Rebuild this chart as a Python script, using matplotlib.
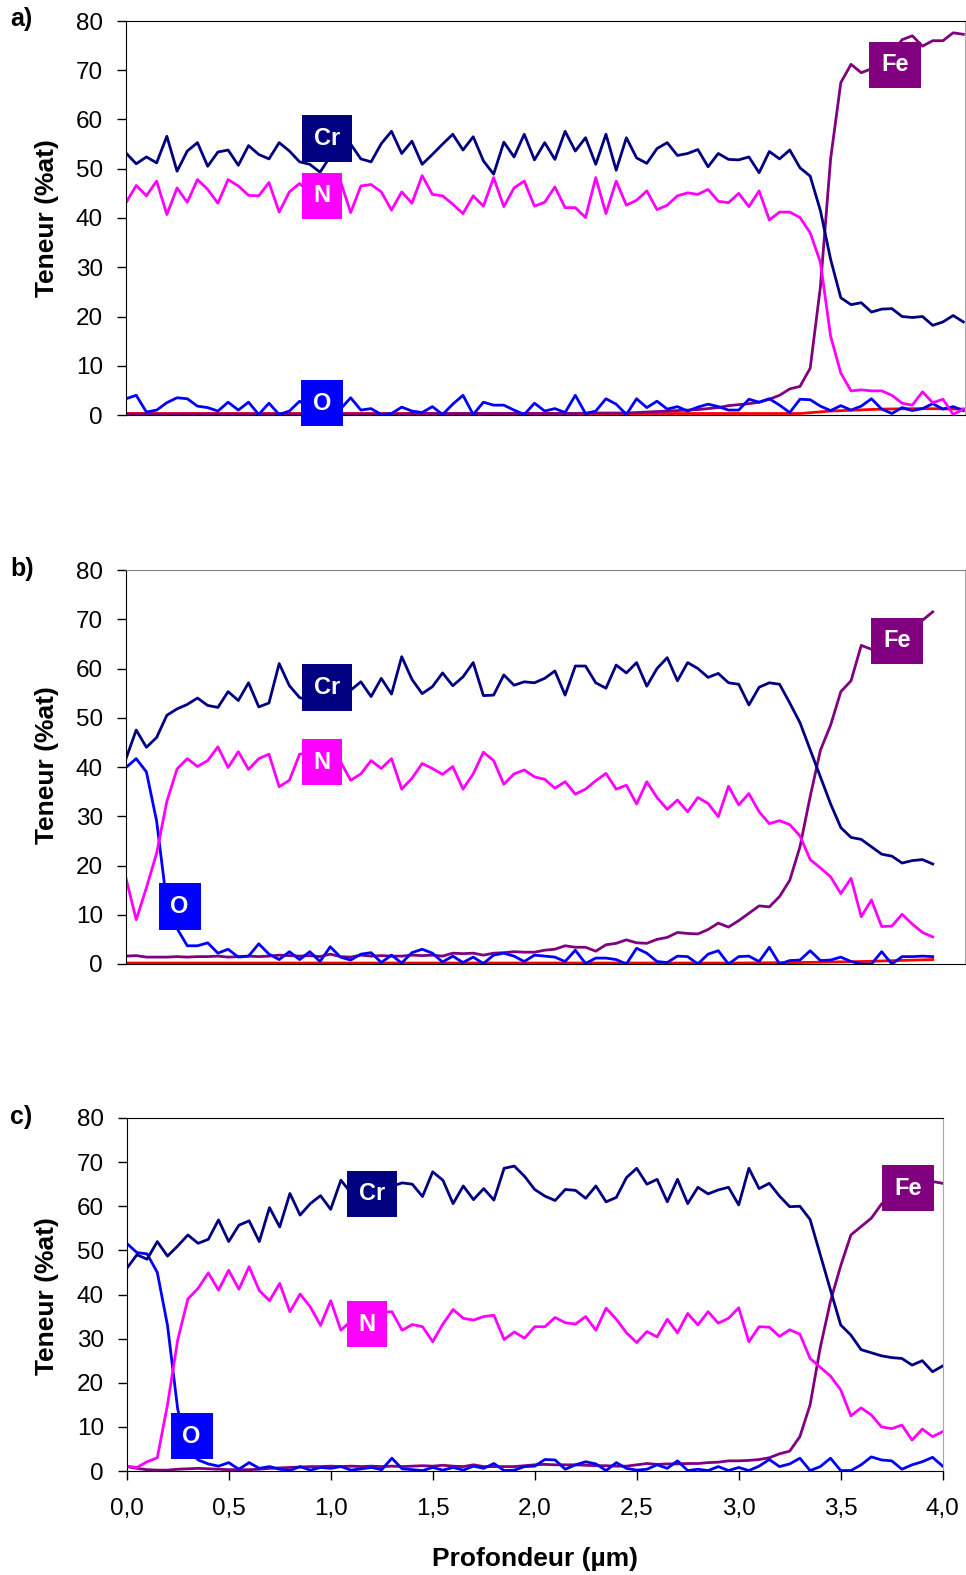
import numpy as np
import matplotlib

matplotlib.use("Agg")
import matplotlib.pyplot as plt
from matplotlib.ticker import FuncFormatter

plt.rcParams['font.family'] = ['Liberation Sans', 'DejaVu Sans']

# Profondeurs (pas de 0,05 µm)
prof_a = np.round(np.arange(83) * 0.05, 2)
prof_b = np.round(np.arange(80) * 0.05, 2)
prof_c = np.round(np.arange(81) * 0.05, 2)

# ---- Profil a) ----
cr_a = [53.2, 51.0, 52.4, 51.2, 56.6, 49.5, 53.6, 55.3, 50.5, 53.4,
        53.8, 50.7, 54.7, 52.9, 52.0, 55.3, 53.6, 51.4, 50.9, 49.3,
        52.5, 52.0, 55.0, 52.0, 51.4, 55.1, 57.6, 53.1, 55.6, 50.9,
        52.9, 55.0, 57.0, 53.8, 56.5, 51.6, 48.9, 55.4, 52.4, 57.0,
        51.8, 55.3, 51.9, 57.6, 53.6, 56.3, 50.9, 57.0, 49.7, 56.3,
        52.2, 51.1, 54.1, 55.3, 52.7, 53.1, 53.9, 50.4, 53.1, 51.9,
        51.8, 52.4, 49.2, 53.5, 52.0, 53.8, 50.2, 48.5, 41.5, 31.6,
        23.8, 22.4, 22.8, 20.9, 21.5, 21.6, 20.0, 19.8, 20.0, 18.2,
        18.9, 20.2, 18.9]
n_a = [43.1, 46.6, 44.5, 47.5, 40.7, 46.1, 43.2, 47.8, 45.8, 43.0,
       47.8, 46.5, 44.6, 44.5, 47.2, 41.2, 45.3, 47.0, 45.1, 47.8,
       46.0, 47.5, 41.1, 46.5, 46.8, 45.3, 41.6, 45.3, 43.0, 48.6,
       44.8, 44.5, 42.8, 40.9, 44.5, 42.4, 48.2, 42.3, 46.1, 47.5,
       42.4, 43.2, 46.3, 42.1, 42.1, 40.1, 48.2, 40.9, 47.5, 42.6,
       43.6, 45.5, 41.7, 42.6, 44.5, 45.1, 44.8, 45.8, 43.4, 43.1,
       45.0, 42.3, 45.5, 39.6, 41.2, 41.2, 40.1, 37.0, 31.0, 16.0,
       8.5, 4.9, 5.1, 4.9, 4.9, 4.0, 2.4, 2.0, 4.7, 2.5,
       3.2, 0.1, 1.2]
o_a = [3.3, 4.0, 0.6, 1.0, 2.5, 3.5, 3.3, 1.8, 1.5, 0.8,
       2.6, 1.0, 2.6, 0.1, 2.4, 0.1, 0.8, 2.8, 1.3, 1.8,
       1.5, 1.2, 3.5, 1.0, 1.3, 0.1, 0.3, 1.6, 0.8, 0.5,
       1.7, 0.1, 2.2, 4.0, 0.1, 2.6, 2.0, 2.0, 1.0, 0.1,
       2.4, 0.8, 1.3, 0.5, 4.0, 0.3, 0.8, 3.3, 2.2, 0.1,
       3.3, 1.5, 2.8, 1.2, 1.7, 0.8, 1.6, 2.2, 1.7, 1.0,
       1.0, 3.2, 2.6, 3.3, 2.0, 0.5, 3.2, 3.1, 1.8, 0.9,
       1.9, 1.0, 1.8, 3.3, 1.2, 0.3, 1.5, 0.9, 1.3, 2.3,
       1.2, 1.7, 0.9]
fe_a = [0.2, 0.2, 0.2, 0.2, 0.2, 0.2, 0.2, 0.2, 0.2, 0.2,
        0.2, 0.2, 0.2, 0.2, 0.2, 0.2, 0.2, 0.2, 0.2, 0.2,
        0.2, 0.2, 0.2, 0.2, 0.2, 0.2, 0.2, 0.2, 0.3, 0.3,
        0.3, 0.3, 0.3, 0.3, 0.3, 0.3, 0.3, 0.3, 0.3, 0.3,
        0.3, 0.3, 0.3, 0.3, 0.3, 0.4, 0.4, 0.4, 0.4, 0.4,
        0.5, 0.6, 0.7, 0.8, 0.9, 1.0, 1.1, 1.3, 1.5, 1.9,
        2.1, 2.3, 2.6, 3.2, 4.0, 5.3, 5.8, 9.5, 26.0, 52.0,
        67.5, 71.2, 69.5, 70.3, 71.5, 73.5, 76.2, 77.0, 74.9, 76.0,
        76.0, 77.6, 77.3]
rouge_x_a = [0.0, 1.0, 2.0, 3.0, 3.3, 3.45, 3.7, 3.9, 4.1]
rouge_a = [0.3, 0.3, 0.3, 0.3, 0.3, 0.8, 1.2, 1.3, 1.2]

# ---- Profil b) ----
cr_b = [41.7, 47.5, 44.0, 46.0, 50.5, 51.8, 52.7, 54.0, 52.5, 52.1,
        55.3, 53.5, 57.1, 52.2, 53.0, 61.0, 56.5, 54.1, 53.5, 55.5,
        54.0, 57.0, 55.6, 57.3, 54.3, 58.0, 54.8, 62.4, 57.8, 54.9,
        56.3, 59.1, 56.5, 58.3, 61.2, 54.5, 54.6, 58.7, 56.6, 57.3,
        57.1, 58.0, 59.5, 54.6, 60.5, 60.5, 57.1, 56.0, 60.7, 59.1,
        61.2, 56.4, 60.0, 62.2, 57.5, 61.2, 60.0, 58.2, 59.0, 57.1,
        56.8, 52.6, 56.2, 57.1, 56.8, 53.0, 49.0, 43.5, 38.0, 32.5,
        27.7, 25.7, 25.3, 23.8, 22.3, 21.9, 20.5, 21.0, 21.2, 20.3]
n_b = [17.4, 9.0, 15.5, 22.5, 33.0, 39.6, 41.7, 40.1, 41.3, 44.1,
       39.9, 43.1, 39.5, 41.7, 42.6, 36.0, 37.3, 42.6, 42.8, 41.5,
       42.0, 41.1, 37.3, 38.6, 41.3, 39.7, 41.7, 35.5, 37.7, 40.7,
       39.7, 38.5, 40.1, 35.5, 38.6, 43.0, 41.3, 36.5, 38.6, 39.4,
       38.0, 37.5, 35.7, 37.0, 34.5, 35.5, 37.2, 38.7, 35.5, 36.3,
       32.5, 37.0, 33.8, 31.4, 33.3, 30.9, 33.8, 32.6, 29.9, 36.1,
       32.3, 34.6, 30.9, 28.5, 29.1, 28.3, 26.0, 21.2, 19.5, 17.7,
       14.3, 17.4, 9.6, 13.0, 7.6, 7.7, 10.1, 8.1, 6.4, 5.5]
o_b = [39.9, 41.7, 39.0, 29.0, 12.3, 7.2, 3.7, 3.7, 4.3, 2.2,
       3.0, 1.4, 1.6, 4.1, 2.0, 0.9, 2.5, 0.9, 2.5, 0.5,
       3.5, 1.4, 0.8, 2.0, 2.3, 0.3, 1.8, 0.2, 2.3, 3.0,
       2.2, 0.4, 1.6, 0.3, 1.4, 0.1, 1.8, 2.2, 1.6, 0.5,
       1.8, 1.6, 1.4, 0.5, 2.8, 0.1, 1.2, 1.2, 0.9, 0.0,
       3.2, 2.2, 0.5, 0.3, 1.6, 1.5, 0.0, 2.0, 2.7, 0.0,
       1.5, 1.6, 0.5, 3.4, 0.0, 0.7, 0.8, 2.7, 0.7, 0.8,
       1.4, 0.5, 0.0, 0.0, 2.5, 0.0, 1.5, 1.5, 1.6, 1.5]
fe_b = [1.6, 1.7, 1.4, 1.4, 1.4, 1.5, 1.4, 1.5, 1.5, 1.6,
        1.4, 1.5, 1.6, 1.5, 1.6, 1.8, 1.7, 1.6, 1.7, 1.5,
        2.0, 1.5, 1.4, 1.8, 1.6, 1.7, 1.6, 1.6, 1.8, 1.7,
        1.8, 1.6, 2.2, 2.1, 2.2, 1.8, 2.2, 2.3, 2.5, 2.4,
        2.4, 2.8, 3.0, 3.7, 3.4, 3.4, 2.6, 3.9, 4.2, 4.9,
        4.3, 4.2, 5.0, 5.4, 6.4, 6.2, 6.1, 7.0, 8.3, 7.5,
        8.8, 10.3, 11.8, 11.6, 13.7, 17.0, 23.8, 34.0, 43.4, 48.5,
        55.3, 57.5, 64.7, 63.9, 64.5, 65.5, 66.5, 68.0, 69.8, 71.5]
rouge_x_b = [0.0, 1.0, 2.0, 3.0, 3.3, 3.6, 3.95]
rouge_b = [0.2, 0.2, 0.2, 0.2, 0.3, 0.5, 0.9]

# ---- Profil c) ----
cr_c = [45.9, 49.0, 48.0, 52.0, 48.7, 51.0, 53.5, 51.6, 52.5, 56.9,
        52.0, 55.7, 56.7, 52.0, 59.7, 55.3, 62.9, 58.0, 60.6, 62.4,
        59.3, 65.9, 63.0, 64.5, 65.5, 63.0, 64.5, 65.3, 65.0, 62.2,
        67.8, 65.9, 60.6, 64.6, 61.5, 64.0, 61.4, 68.6, 69.1, 66.8,
        63.8, 62.3, 61.3, 63.8, 63.6, 61.8, 64.6, 61.0, 62.0, 66.5,
        68.6, 65.0, 66.1, 61.0, 66.1, 60.6, 64.3, 62.8, 63.7, 64.3,
        60.3, 68.6, 64.0, 65.2, 62.3, 59.9, 60.0, 57.0, 49.0, 41.0,
        33.1, 30.8, 27.5, 26.8, 26.1, 25.7, 25.5, 24.0, 25.0, 22.5,
        23.8]
n_c = [1.1, 0.8, 2.1, 3.0, 15.0, 29.7, 39.0, 41.4, 44.9, 41.0,
       45.5, 41.2, 46.3, 40.9, 38.6, 42.5, 36.1, 40.1, 37.2, 33.0,
       38.6, 31.9, 34.0, 34.5, 33.5, 36.0, 36.1, 31.9, 33.2, 32.7,
       29.3, 33.3, 36.6, 34.6, 34.2, 35.0, 35.3, 29.8, 31.5, 30.1,
       32.7, 32.7, 34.8, 33.6, 33.3, 35.0, 31.9, 36.9, 34.4, 31.3,
       29.1, 31.6, 30.4, 34.4, 31.3, 35.7, 33.1, 36.1, 33.5, 34.6,
       37.0, 29.3, 32.7, 32.6, 30.5, 32.0, 31.0, 25.5, 23.5, 21.5,
       18.4, 12.5, 14.3, 12.7, 10.0, 9.6, 10.4, 7.0, 9.5, 7.8,
       8.9]
o_c = [51.6, 49.5, 49.2, 45.0, 33.0, 14.0, 5.0, 2.5, 1.6, 1.1,
       1.9, 0.4, 1.9, 0.6, 1.0, 0.4, 0.1, 1.0, 0.2, 0.8,
       0.6, 1.0, 0.2, 0.5, 0.8, 0.3, 2.9, 0.5, 0.3, 0.1,
       0.8, 0.2, 0.8, 0.2, 1.1, 0.6, 1.7, 0.1, 0.2, 1.0,
       1.1, 2.6, 2.5, 0.4, 1.4, 2.1, 1.6, 0.1, 1.9, 0.6,
       0.2, 0.4, 1.4, 0.6, 2.3, 0.1, 0.4, 0.1, 1.0, 0.1,
       0.8, 0.1, 1.1, 2.6, 1.0, 1.6, 2.9, 0.1, 1.0, 2.9,
       0.1, 0.1, 1.4, 3.2, 2.5, 2.3, 0.4, 1.4, 2.1, 3.1,
       1.1]
fe_c = [1.0, 0.6, 0.3, 0.2, 0.2, 0.4, 0.5, 0.6, 0.5, 0.4,
        0.3, 0.3, 0.3, 0.4, 0.6, 0.7, 0.8, 0.9, 1.0, 1.0,
        1.1, 1.0, 1.1, 1.0, 1.1, 1.0, 1.1, 1.0, 1.1, 1.2,
        1.1, 1.3, 1.1, 1.0, 1.4, 1.0, 1.0, 1.0, 1.0, 1.2,
        1.4, 1.5, 1.4, 1.4, 1.4, 1.3, 1.2, 1.2, 1.1, 1.1,
        1.4, 1.7, 1.5, 1.6, 1.6, 1.7, 1.7, 1.9, 2.0, 2.3,
        2.3, 2.4, 2.6, 3.0, 3.9, 4.5, 7.8, 15.0, 28.0, 38.5,
        46.5, 53.5, 55.4, 57.3, 60.5, 62.5, 63.5, 64.5, 65.0, 65.6,
        65.2]

couleurs = {'Cr': '#000080', 'N': '#FF00FF', 'O': '#0000FF', 'Fe': '#800080'}

fig = plt.figure(figsize=(9.66, 15.75), dpi=100)


def virgule(v, pos):
    return f"{v:.1f}".replace('.', ',')


def trace_profil(ax, prof, cr, n, o, fe, rouge_x, rouge, xmax, etiquettes,
                 couleur_haut, axe_x):
    if rouge is not None:
        ax.plot(rouge_x, rouge, color='#FF0000', lw=2.0)
    ax.plot(prof, fe, color=couleurs['Fe'], lw=2.0)
    ax.plot(prof, o, color=couleurs['O'], lw=2.0)
    ax.plot(prof, n, color=couleurs['N'], lw=2.0)
    ax.plot(prof, cr, color=couleurs['Cr'], lw=2.0)

    ax.set_xlim(0, xmax)
    ax.set_ylim(0, 80)
    ax.set_yticks(range(0, 81, 10))
    ax.tick_params(axis='y', direction='out', length=6.5, width=1,
                   labelsize=17.5, pad=10)
    if axe_x:
        ax.set_xticks(np.arange(0, 4.01, 0.5))
        ax.xaxis.set_major_formatter(FuncFormatter(virgule))
        ax.tick_params(axis='x', direction='out', length=6.5, width=1,
                       labelsize=17.5, pad=13)
    else:
        ax.set_xticks([])

    ax.spines['top'].set_color(couleur_haut)
    ax.spines['right'].set_color('#a8a8a8')
    for s in ['left', 'bottom']:
        ax.spines[s].set_color('black')

    # étiquettes des éléments
    for nom, x, y in etiquettes:
        ax.text(x, y, nom, color='white', fontsize=17, fontweight='bold',
                ha='center', va='center', zorder=6,
                bbox=dict(boxstyle='square,pad=0.5', fc=couleurs[nom], ec='none'))


ax_a = fig.add_axes([126 / 966, 1 - 415 / 1575, 839 / 966, 394 / 1575])
ax_b = fig.add_axes([126 / 966, 1 - 964 / 1575, 839 / 966, 394 / 1575])
ax_c = fig.add_axes([126.7 / 966, 1 - 1471 / 1575, 816 / 966, 353 / 1575])

trace_profil(ax_a, prof_a, cr_a, n_a, o_a, fe_a, rouge_x_a, rouge_a, 4.108,
             [('Cr', 0.984, 56.1), ('N', 0.96, 44.5), ('O', 0.96, 2.4), ('Fe', 3.765, 71.1)],
             'black', False)
trace_profil(ax_b, prof_b, cr_b, n_b, o_b, fe_b, rouge_x_b, rouge_b, 4.108,
             [('Cr', 0.984, 56.2), ('N', 0.96, 41.0), ('O', 0.262, 11.7), ('Fe', 3.775, 65.6)],
             '#808080', False)
trace_profil(ax_c, prof_c, cr_c, n_c, o_c, fe_c, None, None, 4.0,
             [('Cr', 1.202, 62.8), ('N', 1.178, 33.3), ('O', 0.318, 7.9), ('Fe', 3.83, 64.1)],
             'black', True)

# Lettres des profils et titres des axes
for lettre, yc in [('a)', 19), ('b)', 569), ('c)', 1117)]:
    fig.text(10 / 966, 1 - yc / 1575, lettre, fontsize=18, fontweight='bold',
             ha='left', va='center')
for yc in [218, 765, 1296]:
    fig.text(47.5 / 966, 1 - yc / 1575, 'Teneur (%at)', rotation=90,
             fontsize=19, fontweight='bold', ha='center', va='center')
fig.text(534.5 / 966, 1 - 1566 / 1575, 'Profondeur (µm)', fontsize=19,
         fontweight='bold', ha='center', va='baseline')

fig.savefig('out.png', dpi=100)
